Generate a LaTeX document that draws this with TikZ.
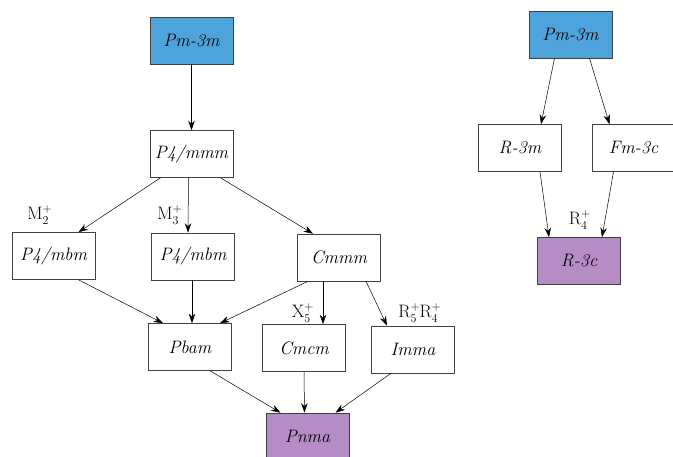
\documentclass[tikz,border=0pt]{standalone}
\usepackage{fontspec}
\usetikzlibrary{arrows.meta}
\definecolor{cubicblue}{RGB}{79,163,221}
\definecolor{finalpurple}{RGB}{181,141,196}
\newcommand\irsmall{\fontsize{12}{12}\selectfont}
\newcommand\irrep[2]{#1\rlap{\raisebox{0.95ex}{\irsmall +}}\raisebox{-0.6ex}{\irsmall #2}}
\begin{document}
\begin{tikzpicture}[x=1pt,y=-1pt,
  grp/.style={draw=black!75,line width=0.6pt,rectangle,minimum width=83pt,minimum height=47pt,inner sep=0pt,font=\fontsize{18}{21}\selectfont\itshape},
  lbl/.style={inner sep=0pt,font=\fontsize{18}{20}\selectfont},
  arr/.style={-{Stealth[length=9.5pt,width=6.5pt]},line width=0.5pt}]
\useasboundingbox (0,0) rectangle (673,457);
% left tree
\node[grp,fill=cubicblue] (pm3mL) at (191.5,40.5) {Pm-3m};
\node[grp] (p4mmm) at (191.5,154) {P4/mmm};
\node[grp] (p4mbmL) at (53.5,256) {P4/mbm};
\node[grp] (p4mbmM) at (193,256.5) {P4/mbm};
\node[grp] (cmmm) at (339,257.5) {Cmmm};
\node[grp] (pbam) at (190,347) {Pbam};
\node[grp] (cmcm) at (304,348) {Cmcm};
\node[grp] (imma) at (413,349.5) {Imma};
\node[grp,fill=finalpurple] (pnma) at (307.5,436.5) {Pnma};
% right tree
\node[grp,fill=cubicblue] (pm3mR) at (570.5,34.5) {Pm-3m};
\node[grp] (r3m) at (520,148) {R-3m};
\node[grp] (fm3c) at (633.5,148) {Fm-3c};
\node[grp,fill=finalpurple] (r3c) at (579,261) {R-3c};
% labels
\node[lbl] (lm2) at (38,215) {\irrep{M}{2}};
\node[lbl] (lm3) at (168,215) {\irrep{M}{3}};
\node[lbl] (lx5) at (301,313) {\irrep{X}{5}};
\node[lbl] (lr54) at (418,313) {\irrep{R}{5}\hspace{3pt}\irrep{R}{4}};
\node[lbl] (lr4) at (578,220) {\irrep{R}{4}};
% left edges
\draw[arr] (pm3mL.south) -- (p4mmm.north);
\draw[arr] ([xshift=-31pt]p4mmm.south) -- ([xshift=25pt]p4mbmL.north);
\draw[arr] ([xshift=-3pt]p4mmm.south) -- ([xshift=-5pt]p4mbmM.north);
\draw[arr] ([xshift=29pt]p4mmm.south) -- ([xshift=-26pt]cmmm.north);
\draw[arr] ([xshift=25pt]p4mbmL.south) -- ([xshift=-27pt]pbam.north);
\draw[arr] ([xshift=-1pt]p4mbmM.south) -- ([xshift=2pt]pbam.north);
\draw[arr] ([xshift=-31pt]cmmm.south) -- ([xshift=30pt]pbam.north);
\draw[arr] ([xshift=-16pt]cmmm.south) -- ([xshift=19pt]cmcm.north);
\draw[arr] ([xshift=27pt]cmmm.south) -- ([xshift=-26pt]imma.north);
\draw[arr] ([xshift=20pt]pbam.south) -- ([xshift=-27pt]pnma.north);
\draw[arr] ([xshift=0pt]cmcm.south) -- ([xshift=-3pt]pnma.north);
\draw[arr] ([xshift=-22pt]imma.south) -- ([xshift=28pt]pnma.north);
% right edges
\draw[arr] ([xshift=-16pt]pm3mR.south) -- ([xshift=21pt]r3m.north);
\draw[arr] ([xshift=19pt]pm3mR.south) -- ([xshift=-24pt]fm3c.north);
\draw[arr] ([xshift=20pt]r3m.south) -- ([xshift=-30pt]r3c.north);
\draw[arr] ([xshift=-20pt]fm3c.south) -- ([xshift=23pt]r3c.north);
\end{tikzpicture}
\end{document}
